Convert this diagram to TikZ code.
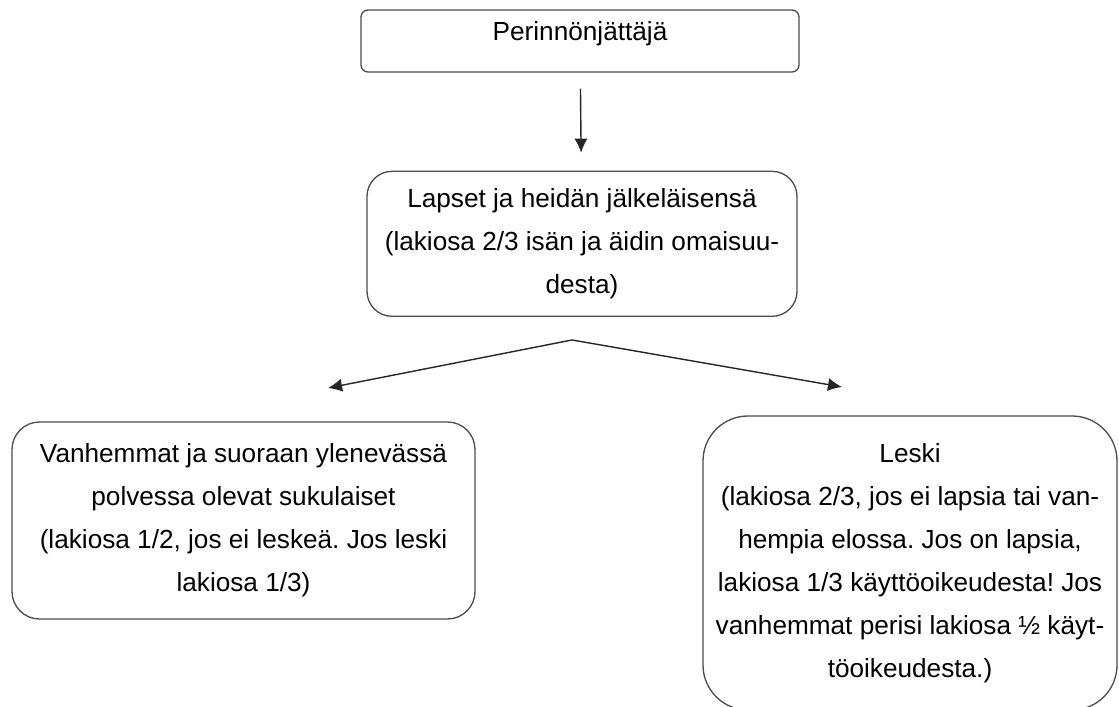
\documentclass[tikz,border=0pt]{standalone}
\usepackage{fontspec}
\setmainfont{Liberation Sans}
\frenchspacing
\usetikzlibrary{positioning}
\usetikzlibrary{arrows.meta}
\tikzset{
semithick,
>={Latex[length=8pt,width=7.5pt]}, % filled triangle tips
my box/.style={draw=black!70,line width=0.75pt,rectangle,align=center,inner sep=0pt,
  font=\fontsize{14.9pt}{24.5pt}\selectfont},
my arrow/.style={->,line width=0.8pt,draw=black!85},
}

\begin{document}
\begin{tikzpicture}
\useasboundingbox (0,0) rectangle (22.38,-14.12);
\node[my box,rounded corners=1.4mm,minimum width=8.76cm,minimum height=1.24cm,
  text height=0.45cm,text depth=0.45cm] (heir) at (11.60,-0.82) {Perinnönjättäjä};
\node[my box,rounded corners=5mm,minimum width=8.6cm,minimum height=2.9cm,
  below=1.96cm of heir,xshift=0.4mm] (children)
  {Lapset ja heidän jälkeläisensä\\(lakiosa 2/3 isän ja äidin omaisuu-\\desta)};
\node[my box,rounded corners=5.5mm,minimum width=9.26cm,minimum height=3.94cm] (parents) at (4.87,-10.41)
  {Vanhemmat ja suoraan ylenevässä\\polvessa olevat sukulaiset\\(lakiosa 1/2, jos ei leskeä. Jos leski\\lakiosa 1/3)};
\node[my box,rounded corners=9mm,minimum width=8.28cm,minimum height=5.88cm] (widow) at (18.20,-11.26)
  {Leski\\(lakiosa 2/3, jos ei lapsia tai van-\\hempia elossa. Jos on lapsia,\\lakiosa 1/3 käyttöoikeudesta! Jos\\vanhemmat perisi lakiosa ½ käyt-\\töoikeudesta.)};
% free ends of the branching arrows
\coordinate[below=0.46cm of children.south,xshift=-2mm] (split);
\coordinate (toparents) at (6.56,-7.76);
\coordinate (towidow) at (16.84,-7.74);
\draw[my arrow,shorten <=0.32cm,shorten >=0.36cm] (heir) -- (children);
\draw[my arrow] (split) -- (toparents);
\draw[my arrow] (split) -- (towidow);
\end{tikzpicture}
\end{document}
